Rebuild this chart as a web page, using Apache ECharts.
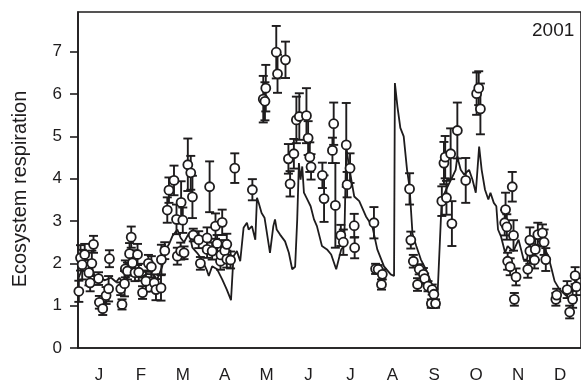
<!DOCTYPE html>
<html>
<head>
<meta charset="utf-8">
<script src="https://cdn.jsdelivr.net/npm/echarts@6/dist/echarts.min.js"></script>
<style>
  html, body { margin: 0; padding: 0; background: #fff; }
  #main { width: 581px; height: 384px; }
</style>
</head>
<body>
<div id="main"></div>
<script>
// month labels on the x axis
var months = ['J', 'F', 'M', 'A', 'M', 'J', 'J', 'A', 'S', 'O', 'N', 'D'];
var yTicks = [0, 1, 2, 3, 4, 5, 6, 7];

// measured respiration (x in months from 1 Jan), value and error bar half width
var obsMonth = [0.02, 0.06, 0.10, 0.16, 0.26, 0.29, 0.33, 0.37, 0.49, 0.51, 0.59, 0.67, 0.73, 0.75,
    1.02, 1.05, 1.11, 1.13, 1.18, 1.23, 1.27, 1.30, 1.36, 1.42, 1.45, 1.54, 1.62, 1.68, 1.75, 1.82, 1.86, 1.98,
    1.99, 2.07, 2.13, 2.17, 2.29, 2.35, 2.37, 2.45, 2.46, 2.50, 2.53, 2.62, 2.69, 2.73, 2.75, 2.88, 2.92,
    3.08, 3.08, 3.14, 3.20, 3.28, 3.32, 3.40, 3.41, 3.44, 3.50, 3.55, 3.55, 3.64, 3.74,
    4.16, 4.42, 4.46, 4.48, 4.73, 4.76, 4.95,
    5.02, 5.06, 5.15, 5.21, 5.28, 5.45, 5.49, 5.53, 5.56, 5.83, 5.87,
    6.07, 6.10, 6.14, 6.27, 6.33, 6.40, 6.42, 6.49, 6.59, 6.60,
    7.06, 7.10, 7.16, 7.24, 7.26, 7.91, 7.94,
    8.00, 8.10, 8.14, 8.24, 8.27, 8.35, 8.43, 8.45, 8.49, 8.53, 8.68, 8.73, 8.76, 8.79, 8.89, 8.92,
    9.05, 9.25, 9.51, 9.56, 9.60,
    10.18, 10.20, 10.23, 10.25, 10.31, 10.36, 10.39, 10.41, 10.45, 10.73, 10.78, 10.78, 10.89, 10.91, 10.97,
    11.08, 11.12, 11.16, 11.40, 11.42, 11.67, 11.73, 11.80, 11.86, 11.89];
var obsValue = [1.34, 2.13, 1.97, 2.21, 1.78, 1.54, 2.00, 2.45, 1.64, 1.08, 0.93, 1.24, 1.40, 2.11,
    1.40, 1.03, 1.52, 1.87, 1.82, 2.23, 2.62, 2.01, 1.78, 2.21, 1.79, 1.31, 1.58, 2.00, 1.92, 1.54, 1.38, 1.42,
    2.09, 2.30, 3.26, 3.73, 3.96, 3.04, 2.17, 2.29, 3.44, 3.02, 2.25, 4.33, 4.14, 3.57, 2.67, 2.56, 2.00,
    2.60, 2.33, 3.81, 2.29, 2.88, 2.47, 2.05, 2.20, 2.97, 2.30, 2.10, 2.45, 2.08, 4.25,
    3.74, 5.88, 5.83, 6.14, 6.99, 6.48, 6.81,
    4.47, 3.88, 4.59, 5.39, 5.47, 5.49, 4.96, 4.51, 4.28, 4.08, 3.53,
    4.67, 5.30, 3.37, 2.66, 2.50, 4.80, 3.86, 4.25, 2.89, 2.37,
    2.96, 1.87, 1.86, 1.50, 1.74, 3.76, 2.55,
    2.05, 1.50, 1.86, 1.74, 1.64, 1.46, 1.05, 1.38, 1.27, 1.05, 3.47, 4.37, 4.51, 3.55, 4.59, 2.94,
    5.14, 3.96, 6.01, 6.14, 5.65,
    2.96, 3.27, 2.86, 2.05, 1.92, 3.81, 2.66, 1.15, 1.68, 1.86, 2.29, 2.55, 2.08, 2.33, 2.68,
    2.72, 2.50, 2.09, 1.15, 1.25, 1.38, 0.85, 1.15, 1.71, 1.45];
var obsErr = [0.25, 0.30, 0.35, 0.25, 0.30, 0.20, 0.30, 0.20, 0.15, 0.15, 0.15, 0.20, 0.30, 0.20,
    0.15, 0.12, 0.30, 0.20, 0.20, 0.25, 0.25, 0.30, 0.20, 0.25, 0.20, 0.15, 0.25, 0.20, 0.25, 0.20, 0.25, 0.30,
    0.35, 0.20, 0.30, 0.30, 0.35, 0.35, 0.20, 0.20, 0.50, 0.30, 0.15, 0.62, 0.40, 0.50, 0.15, 0.20, 0.15,
    0.25, 0.20, 0.60, 0.20, 0.30, 0.20, 0.20, 0.20, 0.30, 0.25, 0.20, 0.25, 0.20, 0.35,
    0.25, 0.55, 0.45, 0.55, 0.62, 0.45, 0.43,
    0.35, 0.30, 0.35, 0.55, 0.55, 0.65, 0.40, 0.35, 0.30, 0.30, 0.55,
    0.30, 0.50, 1.00, 0.25, 0.30, 0.99, 0.30, 0.35, 0.28, 0.25,
    0.37, 0.12, 0.10, 0.12, 0.12, 0.37, 0.20,
    0.15, 0.15, 0.12, 0.15, 0.12, 0.12, 0.10, 0.12, 0.12, 0.10, 0.35, 0.50, 0.50, 0.40, 0.60, 0.53,
    0.66, 0.53, 0.50, 0.40, 0.60,
    0.30, 0.40, 0.30, 0.20, 0.20, 0.35, 0.36, 0.15, 0.20, 0.20, 0.30, 0.30, 0.20, 0.25, 0.28,
    0.20, 0.30, 0.27, 0.15, 0.15, 0.20, 0.15, 0.20, 0.20, 0.20];

// modelled respiration
var modelMonth = [0.00, 0.09, 0.21, 0.32, 0.44, 0.51, 0.63, 0.79, 0.91, 0.99, 1.08, 1.23, 1.37, 1.50, 1.63, 1.78, 1.89,
    2.01, 2.09, 2.17, 2.25, 2.37, 2.45, 2.53, 2.65, 2.73, 2.84, 2.96, 3.08, 3.12, 3.20, 3.32, 3.44, 3.55, 3.65,
    3.71, 3.79, 3.87, 3.95, 4.03, 4.07, 4.15, 4.23, 4.27, 4.31, 4.38, 4.45, 4.50, 4.58, 4.66, 4.70, 4.74, 4.82,
    4.94, 5.03, 5.11, 5.18, 5.23, 5.27, 5.31, 5.35, 5.39, 5.47, 5.55, 5.63, 5.70, 5.82, 5.94, 6.04, 6.16, 6.28,
    6.35, 6.40, 6.45, 6.52, 6.59, 6.71, 6.87, 7.02, 7.14, 7.30, 7.46, 7.54, 7.56, 7.59, 7.62, 7.69, 7.77, 7.85,
    7.91, 7.98, 8.07, 8.18, 8.30, 8.46, 8.58, 8.62, 8.66, 8.68, 8.78, 8.90, 9.01, 9.05, 9.08, 9.13, 9.21, 9.33,
    9.41, 9.49, 9.57, 9.63, 9.71, 9.79, 9.84, 9.92, 9.98, 10.02, 10.09, 10.19, 10.25, 10.33, 10.39, 10.44,
    10.51, 10.57, 10.63, 10.71, 10.78, 10.94, 11.10, 11.22, 11.30, 11.37, 11.49, 11.65, 11.77, 11.85, 11.91];
var modelValue = [1.62, 1.85, 1.78, 1.95, 1.54, 1.70, 1.60, 1.66, 1.56, 1.66, 1.50, 1.75, 1.70, 1.66, 1.75, 1.74, 1.62,
    1.93, 2.33, 2.45, 2.64, 2.80, 2.60, 2.50, 2.72, 2.37, 2.25, 2.09, 1.82, 1.70, 1.93, 1.86, 1.62, 1.38, 1.13,
    2.17, 2.29, 2.05, 2.84, 2.96, 2.80, 2.88, 2.56, 3.55, 3.43, 3.19, 3.08, 2.76, 2.25, 2.88, 3.04, 2.80, 2.68,
    2.52, 2.25, 1.86, 1.92, 3.04, 4.37, 3.98, 4.29, 3.67, 3.51, 3.35, 3.04, 2.88, 2.41, 2.33, 2.21, 1.86, 2.33,
    2.40, 4.76, 4.40, 3.98, 3.58, 3.47, 3.11, 2.88, 2.33, 1.93, 1.74, 1.70, 6.26, 6.30, 5.71, 5.20, 5.00, 4.21,
    3.80, 2.70, 2.41, 2.09, 1.86, 1.46, 1.31, 1.27, 3.11, 3.51, 3.74, 3.98, 4.21, 4.53, 4.40, 4.21, 4.10, 4.21,
    3.98, 3.67, 4.76, 4.21, 3.74, 3.51, 3.67, 3.43, 3.35, 2.80, 2.64, 2.25, 2.41, 2.33, 2.29, 2.41,
    2.56, 2.33, 2.09, 2.09, 2.49, 2.44, 2.41, 2.17, 1.86, 1.58, 1.38, 1.23, 1.38, 1.54, 1.67];

var ink = '#1e1c1d';
var font = 'Liberation Sans, Arial, Helvetica, sans-serif';

var chart = echarts.init(document.getElementById('main'), null, { renderer: 'canvas' });

var errData = [], obsData = [], modelData = [];
for (var i = 0; i < obsMonth.length; i++) {
    errData.push([obsMonth[i], obsValue[i] - obsErr[i], obsValue[i] + obsErr[i]]);
    obsData.push([obsMonth[i], obsValue[i]]);
}
for (var j = 0; j < modelMonth.length; j++) {
    modelData.push([modelMonth[j], modelValue[j]]);
}

function renderErr(params, api) {
    var x = api.value(0);
    var top = api.coord([x, api.value(2)]);
    var bot = api.coord([x, api.value(1)]);
    var w = 4.5;
    var st = { stroke: ink, lineWidth: 1.9 };
    return {
        type: 'group',
        children: [
            { type: 'line', shape: { x1: top[0], y1: top[1], x2: bot[0], y2: bot[1] }, style: st },
            { type: 'line', shape: { x1: top[0] - w, y1: top[1], x2: top[0] + w, y2: top[1] }, style: st },
            { type: 'line', shape: { x1: bot[0] - w, y1: bot[1], x2: bot[0] + w, y2: bot[1] }, style: st }
        ]
    };
}

var option = {
    animation: false,
    backgroundColor: '#fff',
    grid: {
        left: 78, top: 12, width: 506, height: 336.7,
        show: true, borderColor: ink, borderWidth: 1.6, backgroundColor: 'transparent'
    },
    xAxis: [{
        type: 'category',
        data: months,
        boundaryGap: true,
        axisLine: { lineStyle: { color: ink, width: 1.6 } },
        axisTick: { length: 8, lineStyle: { color: ink, width: 1.6 } },
        axisLabel: { color: ink, fontSize: 17, fontFamily: font, margin: 19 },
        splitLine: { show: false }
    }, {
        type: 'value',
        min: 0, max: 12,
        show: false,
        splitLine: { show: false }
    }],
    yAxis: {
        type: 'value',
        min: 0, max: 7.94, interval: 1,
        axisLine: { show: true, lineStyle: { color: ink, width: 1.6 } },
        axisTick: { show: true, length: 8, customValues: yTicks, lineStyle: { color: ink, width: 1.6 } },
        axisLabel: { color: ink, fontSize: 17, fontFamily: font, margin: 16, customValues: yTicks },
        splitLine: { show: false }
    },
    graphic: [{
        type: 'text',
        left: 532, top: 21,
        style: { text: '2001', fill: ink, font: '19px ' + font }
    }, {
        type: 'text',
        x: 20, y: 189,
        rotation: Math.PI / 2,
        style: {
            text: 'Ecosystem respiration', fill: ink, font: '20px ' + font,
            textAlign: 'center', textVerticalAlign: 'middle'
        }
    }],
    series: [{
        name: 'model',
        type: 'line',
        xAxisIndex: 1,
        data: modelData,
        showSymbol: false,
        lineStyle: { color: ink, width: 1.8 },
        z: 2
    }, {
        name: 'err',
        type: 'custom',
        xAxisIndex: 1,
        data: errData,
        encode: { x: 0, y: [1, 2] },
        renderItem: renderErr,
        z: 3
    }, {
        name: 'obs',
        type: 'scatter',
        xAxisIndex: 1,
        data: obsData,
        symbol: 'circle',
        symbolSize: 9,
        itemStyle: { color: '#fff', borderColor: ink, borderWidth: 1.8, opacity: 1 },
        z: 4
    }]
};

chart.setOption(option);
</script>
</body>
</html>
